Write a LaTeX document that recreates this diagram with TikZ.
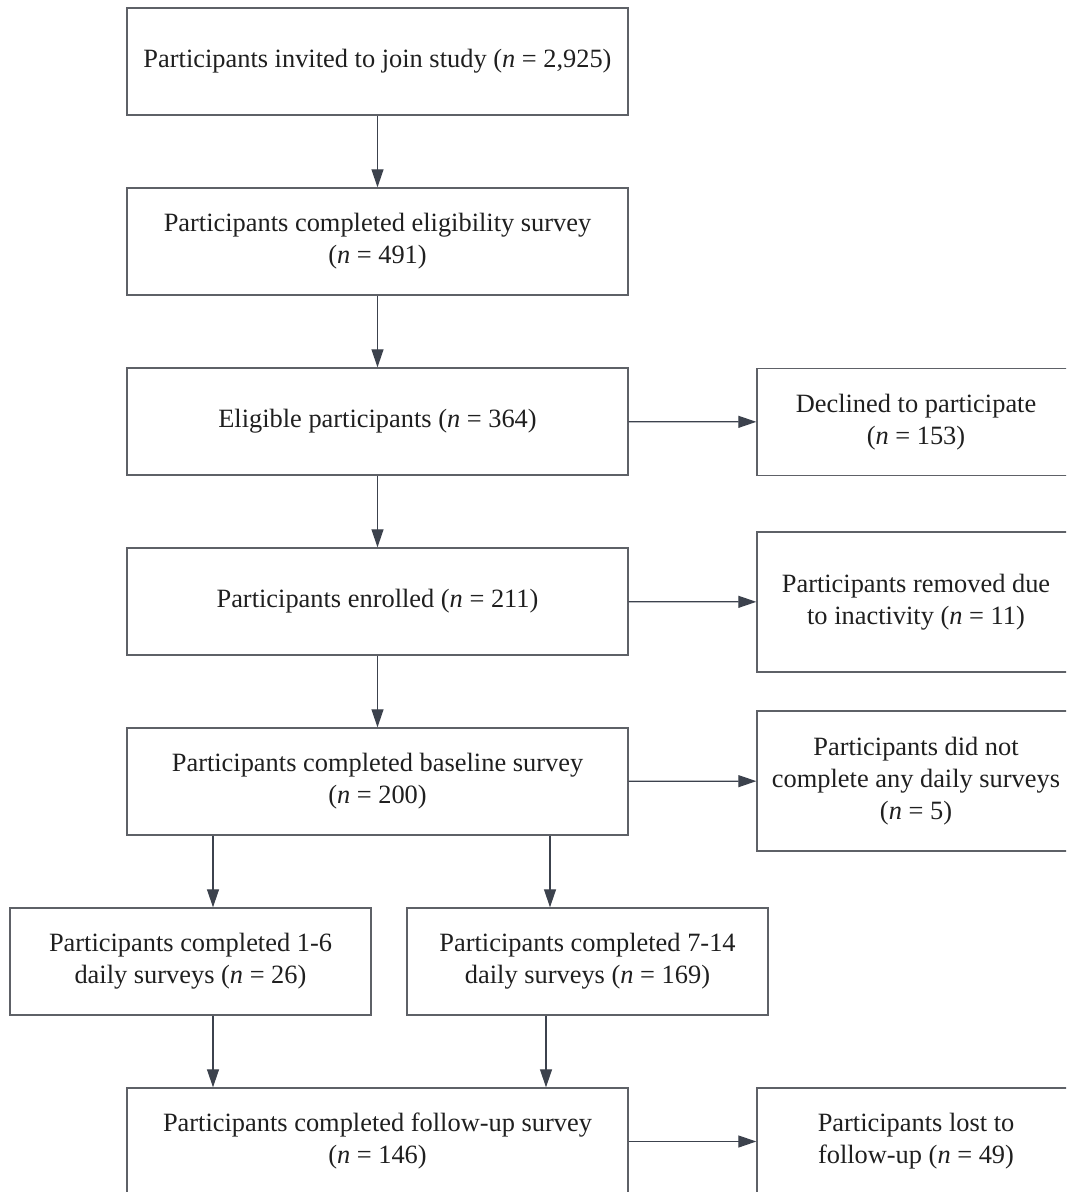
\documentclass[tikz,border=0pt]{standalone}
\usepackage{fontspec}
\setmainfont{Liberation Serif}
\usetikzlibrary{arrows.meta}
\definecolor{boxline}{HTML}{5E6167}
\definecolor{arrline}{HTML}{3C424D}
\begin{document}
\begin{tikzpicture}[x=0.5pt,y=-0.5pt,
	b/.style = {draw=boxline, line width=0.7pt, minimum width=250.5pt, minimum height=53.5pt, inner sep=0pt, align=center, text=black!88, font=\fontsize{13.2}{16}\selectfont},
	s/.style = {b, minimum width=159pt},
	d/.style = {b, minimum width=180.5pt},
	a/.style = {draw=arrline, line width=0.6pt, -{Triangle[length=9pt,width=6pt]}}]
			\useasboundingbox (0,0) rectangle (1066,1192);
			\clip (0,0) rectangle (1066,1192);
			\node[b] at (377.5,61.5) (inv) {Participants invited to join study (\textit{n} = 2,925)};
			\node[b] at (377.5,241.5) (elig) {Participants completed eligibility survey\\(\textit{n} = 491)};
			\node[b] at (377.5,421.5) (ok) {Eligible participants (\textit{n} = 364)};
			\node[s] at (916,422) (decl) {Declined to participate\\(\textit{n} = 153)};
			\node[b] at (377.5,601.5) (enr) {Participants enrolled (\textit{n} = 211)};
			\node[s, minimum height=70pt] at (916,602) (rem) {Participants removed due\\to inactivity (\textit{n} = 11)};
			\node[b] at (377.5,781.5) (base) {Participants completed baseline survey\\(\textit{n} = 200)};
			\node[s, minimum height=70pt] at (916,781) (none) {Participants did not\\complete any daily surveys\\(\textit{n} = 5)};
			\node[d] at (190.5,961.5) (few) {Participants completed 1-6\\daily surveys (\textit{n} = 26)};
			\node[d] at (587.5,961.5) (many) {Participants completed 7-14\\daily surveys (\textit{n} = 169)};
			\node[b] at (377.5,1141.5) (fol) {Participants completed follow-up survey\\(\textit{n} = 146)};
			\node[s] at (916,1141.5) (lost) {Participants lost to\\follow-up (\textit{n} = 49)};
			\coordinate (l) at (213,0);
			\coordinate (r) at (550,0);
			\coordinate (q) at (546,0);
			\draw[a] (inv) -- (elig);
			\draw[a] (elig) -- (ok);
			\draw[a] (ok) -- (decl);
			\draw[a] (ok) -- (enr);
			\draw[a] (enr) -- (rem);
			\draw[a] (enr) -- (base);
			\draw[a] (base) -- (none);
			\draw[a] (base.south -| l) -- (few.north -| l);
			\draw[a] (base.south -| r) -- (many.north -| r);
			\draw[a] (few.south -| l) -- (fol.north -| l);
			\draw[a] (many.south -| q) -- (fol.north -| q);
			\draw[a] (fol) -- (lost);
		\end{tikzpicture}
\end{document}
